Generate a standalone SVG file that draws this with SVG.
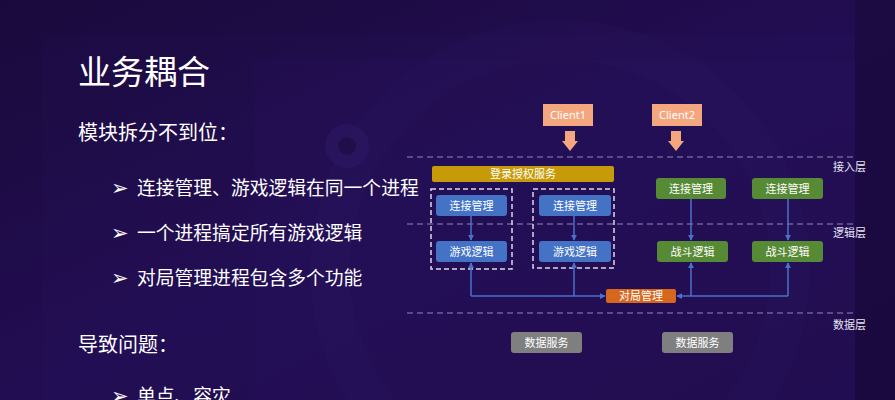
<svg xmlns="http://www.w3.org/2000/svg" width="895" height="400" viewBox="0 0 895 400">
  <defs>
    <linearGradient id="bg" x1="0" y1="0" x2="1" y2="1">
      <stop offset="0" stop-color="#1a0a3c"/>
      <stop offset="0.5" stop-color="#220d52"/>
      <stop offset="1" stop-color="#1e0b4a"/>
    </linearGradient>
    <marker id="arr" viewBox="0 0 8 8" refX="7" refY="4" markerWidth="6" markerHeight="6" markerUnits="userSpaceOnUse" orient="auto">
      <path d="M0,0 L8,4 L0,8 z" fill="#4a72c8"/>
    </marker>
    <style>
      .cjk { font-family: "Noto Sans CJK SC", "Noto Sans", sans-serif; }
      .big { fill: #ffffff; }
      .bul { font-family: "DejaVu Sans", sans-serif; fill: #ffffff; font-size: 21px; }
      .lbl { font-family: "Noto Sans CJK SC", "Noto Sans", sans-serif; font-size: 11px; fill: #ffffff; text-anchor: middle; }
      .layer { font-family: "Noto Sans CJK SC", sans-serif; font-size: 11px; fill: #e8e4f2; }
      .dash { stroke: #8f87b5; stroke-width: 1.2; stroke-dasharray: 6 4; fill: none; }
      .grp { stroke: #dcd8ea; stroke-width: 1.5; stroke-dasharray: 5 3; fill: none; }
      .blue { fill: #4472c4; }
      .green { fill: #578a35; }
      .gray { fill: #7f7f7f; }
      .con { stroke: #4a72c8; stroke-width: 1.5; fill: none; }
      .client { fill: #f4a77e; }
    </style>
  </defs>

  <!-- background -->
  <rect x="0" y="0" width="895" height="400" fill="url(#bg)"/>
  <rect x="42" y="35" width="813" height="365" fill="#2a1560" opacity="0.12"/>
  <rect x="255" y="60" width="600" height="340" fill="#2c1866" opacity="0.18"/>
  <circle cx="560" cy="270" r="230" fill="none" stroke="#2d1a66" stroke-width="40" opacity="0.18"/>
  <circle cx="347" cy="146" r="22" fill="#2e1a68" opacity="0.5"/>
  <circle cx="347" cy="146" r="9" fill="#1c0b44" opacity="0.7"/>
  <rect x="855" y="0" width="40" height="400" fill="#160834" opacity="0.5"/>

  <!-- left text -->
  <g id="left-text" class="cjk">
    <text x="78" y="84" font-size="33" class="big">业务耦合</text>
    <text x="78" y="140" font-size="20" class="big">模块拆分不到位：</text>
    <text x="111" y="195" class="bul">➢</text>
    <text x="137" y="195" font-size="18.8" class="big">连接管理、游戏逻辑在同一个进程</text>
    <text x="111" y="240" class="bul">➢</text>
    <text x="137" y="240" font-size="18.8" class="big">一个进程搞定所有游戏逻辑</text>
    <text x="111" y="285" class="bul">➢</text>
    <text x="137" y="285" font-size="18.8" class="big">对局管理进程包含多个功能</text>
    <text x="78" y="352" font-size="20" class="big">导致问题：</text>
    <text x="111" y="403" class="bul">➢</text>
    <text x="137" y="403" font-size="18.8" class="big">单点、容灾</text>
  </g>

  <!-- layer separators and labels -->
  <g id="layers">
    <line x1="407" y1="157" x2="853" y2="157" class="dash"/>
    <line x1="407" y1="224" x2="853" y2="224" class="dash"/>
    <line x1="407" y1="313" x2="853" y2="313" class="dash"/>
    <text x="833" y="171" class="layer">接入层</text>
    <text x="833" y="237" class="layer">逻辑层</text>
    <text x="833" y="329" class="layer">数据层</text>
  </g>

  <!-- clients -->
  <g id="client1">
    <rect x="543" y="104" width="50" height="22" class="client"/>
    <text x="568" y="119" class="lbl" style="font-family:'Noto Sans',sans-serif">Client1</text>
    <polygon points="565,131 575,131 575,141 578,141 570,151 562,141 565,141" class="client"/>
  </g>
  <g id="client2">
    <rect x="652" y="104" width="50" height="22" class="client"/>
    <text x="677" y="119" class="lbl" style="font-family:'Noto Sans',sans-serif">Client2</text>
    <polygon points="671,131 681,131 681,141 684,141 676,151 668,141 671,141" class="client"/>
  </g>

  <!-- login service -->
  <g id="login">
    <rect x="432" y="166" width="182" height="16" rx="2" fill="#c79a0a"/>
    <text x="523" y="178" class="lbl">登录授权服务</text>
  </g>

  <!-- process groups -->
  <g id="process1">
    <rect x="431" y="189" width="81" height="80" class="grp"/>
  </g>
  <g id="process2">
    <rect x="533" y="189" width="81" height="79" class="grp"/>
  </g>

  <!-- connectors -->
  <g id="connectors">
    <line x1="471" y1="216" x2="471" y2="240" class="con" marker-end="url(#arr)"/>
    <line x1="574" y1="216" x2="574" y2="240" class="con" marker-end="url(#arr)"/>
    <line x1="691" y1="199" x2="691" y2="240" class="con" marker-end="url(#arr)"/>
    <line x1="788" y1="199" x2="788" y2="240" class="con" marker-end="url(#arr)"/>
    <path d="M471,296 V263" class="con" marker-end="url(#arr)"/>
    <path d="M574,296 V263" class="con" marker-end="url(#arr)"/>
    <path d="M691,296 V263" class="con" marker-end="url(#arr)"/>
    <path d="M788,296 V263" class="con" marker-end="url(#arr)"/>
    <path d="M471,296 H605" class="con" marker-end="url(#arr)"/>
    <path d="M788,296 H677" class="con" marker-end="url(#arr)"/>
  </g>

  <!-- nodes -->
  <g id="conn1"><rect x="436" y="195" width="71" height="21" rx="3" class="blue"/><text x="471.5" y="209.5" class="lbl">连接管理</text></g>
  <g id="conn2"><rect x="539" y="195" width="72" height="21" rx="3" class="blue"/><text x="575" y="209.5" class="lbl">连接管理</text></g>
  <g id="game1"><rect x="436" y="241" width="71" height="21" rx="3" class="blue"/><text x="471.5" y="255.5" class="lbl">游戏逻辑</text></g>
  <g id="game2"><rect x="539" y="241" width="72" height="21" rx="3" class="blue"/><text x="575" y="255.5" class="lbl">游戏逻辑</text></g>
  <g id="conn3"><rect x="656" y="178" width="70" height="21" rx="3" class="green"/><text x="691" y="192.5" class="lbl">连接管理</text></g>
  <g id="conn4"><rect x="752" y="178" width="71" height="21" rx="3" class="green"/><text x="787.5" y="192.5" class="lbl">连接管理</text></g>
  <g id="battle1"><rect x="657" y="241" width="71" height="21" rx="3" class="green"/><text x="692.5" y="255.5" class="lbl">战斗逻辑</text></g>
  <g id="battle2"><rect x="752" y="241" width="71" height="21" rx="3" class="green"/><text x="787.5" y="255.5" class="lbl">战斗逻辑</text></g>
  <g id="match"><rect x="606" y="289" width="70" height="14" rx="2" fill="#d4661e"/><text x="641" y="300" class="lbl">对局管理</text></g>
  <g id="data1"><rect x="511" y="332" width="71" height="21" rx="3" class="gray"/><text x="546.5" y="346.5" class="lbl">数据服务</text></g>
  <g id="data2"><rect x="662" y="332" width="71" height="21" rx="3" class="gray"/><text x="697.5" y="346.5" class="lbl">数据服务</text></g>
</svg>
